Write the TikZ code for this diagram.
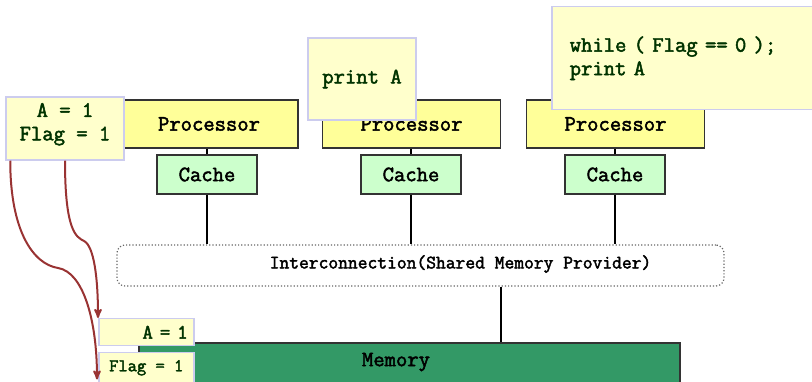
\documentclass[tikz,border=0pt]{standalone}
\usepackage{fontspec}
\newfontfamily\heavytt[FakeBold=2.2]{Latin Modern Mono}
\definecolor{procyellow}{HTML}{FFFF99}
\definecolor{cachegreen}{HTML}{CCFFCC}
\definecolor{memgreen}{HTML}{339966}
\definecolor{notefill}{HTML}{FFFFCC}
\definecolor{noteedge}{HTML}{CCCCEE}
\definecolor{codegreen}{HTML}{003300}
\definecolor{flowred}{HTML}{993333}
\usetikzlibrary{arrows,positioning}
\newcommand*\codefont{\heavytt\fontsize{22}{23.5}\selectfont}
\newcommand*\busfont{\heavytt\fontsize{19}{20}\selectfont}
\newcommand*\smallcodefont{\heavytt\fontsize{18}{20}\selectfont}
\tikzset{
	>=stealth',
	procbox/.style={
		rectangle,
		fill=procyellow,
		draw=black!80, line width=1.3pt,
		minimum width=178, 
		minimum height=48,
		font=\codefont},
	cachebox/.style={
		rectangle,
		fill=cachegreen,
		draw=black!80, line width=1.3pt,
		minimum width=100, 
		minimum height=39,
		font=\codefont},
	icbox/.style={
		rectangle, rounded corners=8,
		draw=black!60, dotted, line width=1.2pt,
		minimum width=607, 
		minimum height=41},
	membox/.style={
		rectangle,
		fill=memgreen,
		draw=black!80, line width=1.3pt,
		minimum width=541, 
		minimum height=40},
	note/.style={
		rectangle,
		fill=notefill,
		draw=noteedge, line width=1.5pt,
		text=codegreen,
		font=\codefont},
	wire/.style={draw, line width=2pt},
	flow/.style={draw=flowred, line width=2pt, ->},
}

\begin{document}
\begin{tikzpicture}[x=1pt,y=-1pt]
\useasboundingbox (0,0) rectangle (812,382);
\clip (0,0) rectangle (812,382);

% bus and memory
\node[icbox] (ic) at (420.5,265.5) {};
\node[font=\busfont] (iclabel) at (460.5,264) {Interconnection(Shared Memory Provider)};
\node[membox] (mem) at (409.5,363) {};
\node[font=\codefont] (memlabel) at (396,362) {Memory};
\draw[wire] ([xshift=80]ic.south) -- ([xshift=80]ic.south |- mem.north);

% three processors, each with its cache
\foreach \px/\cx/\n in {209/207/1, 411.5/411/2, 615.5/615/3}{
	\node[procbox] (proc\n) at (\px,124) {Processor};
	\node[cachebox] (cache\n) at (\cx,174.5) {Cache};
	\draw[wire] (cache\n.north) -- (cache\n.north |- proc\n.south);
	\draw[wire] (cache\n.south) -- (cache\n.south |- ic.north);
}

% code on each processor
\node[note, align=center, minimum width=118, minimum height=63] (code1) at (65,128.5) {A = 1\\Flag = 1\\[-10pt]};
\node[note, minimum width=108, minimum height=82] (code2) at (362,79) {print A\\[-6pt]};
\node[note, anchor=north west, align=left, text width=240, inner xsep=18, minimum height=103] (code3) at (551,6) {while ( Flag == 0 );\\print A};

% values as they land in memory
\node[note, font={\heavytt\fontsize{20.5}{22}\selectfont}, anchor=north west, align=right, text width=83, inner xsep=6, minimum height=27] (memA) at (98,318) {A = 1};
\node[note, font=\smallcodefont, anchor=north west, minimum width=95, minimum height=30] (memFlag) at (98,352) {Flag = 1};
\coordinate (flagin) at ([shift={(-1,-4)}]memFlag.south west);

\draw[flow] (code1.south) .. controls +(0,70) and +(-8,-4) .. (84,241)
	.. controls +(10,5) and +(0,-40) .. (memA.north west);
\draw[flow] ([xshift=5]code1.south west) .. controls +(0,70) and +(-25,-4) .. (58,268)
	.. controls +(25,4) and +(0,-60) .. (flagin);
\end{tikzpicture}
\end{document}
